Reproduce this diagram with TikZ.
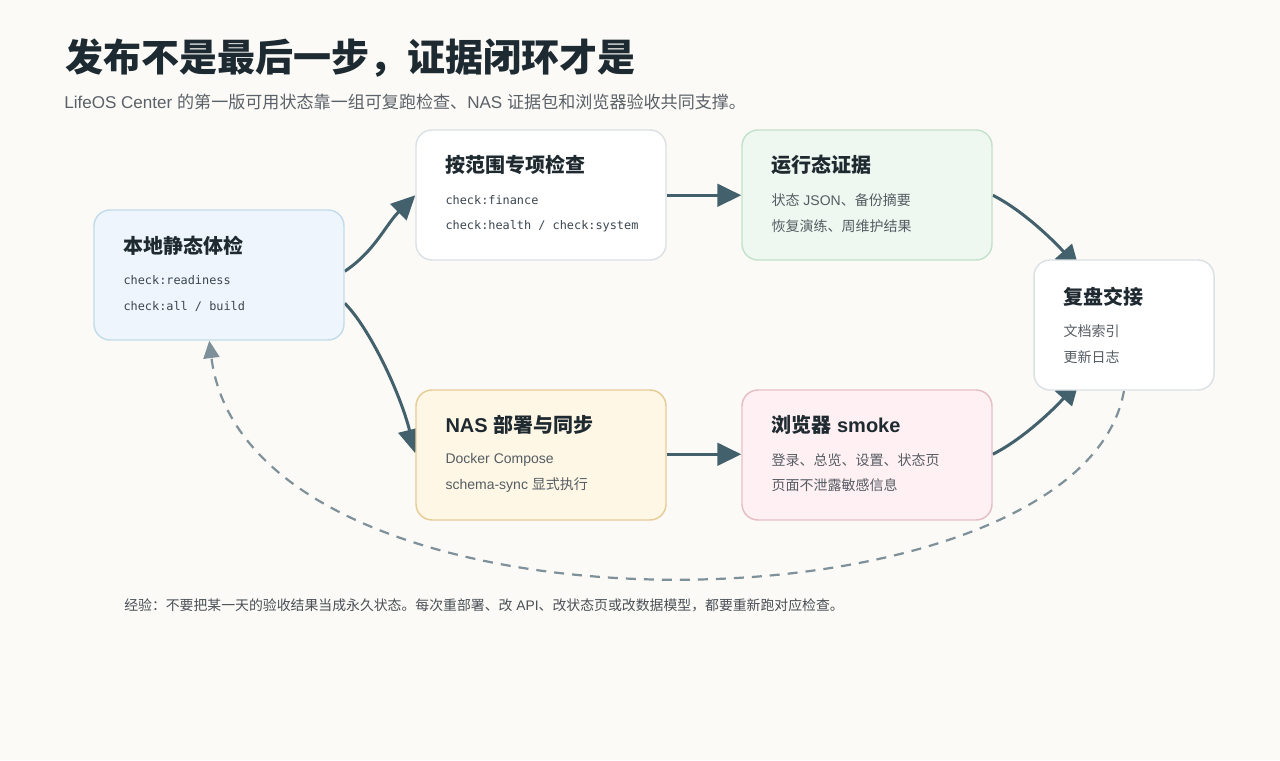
\documentclass[tikz,border=0pt]{standalone}
\usepackage{fontspec}
\setmainfont{Liberation Sans}
\setmonofont{DejaVu Sans Mono}
\newfontfamily\cjkf{Noto Sans CJK SC}
\newfontfamily\latf{Liberation Sans}
\usetikzlibrary{arrows.meta,calc}
\XeTeXinterchartokenstate=1
\newXeTeXintercharclass\CJKcls
\makeatletter
\def\setcjkrange#1#2{\count@=#1\relax\loop\XeTeXcharclass\count@=\CJKcls\relax\ifnum\count@<#2\advance\count@ by 1\repeat}
\makeatother
\setcjkrange{"3000}{"303F}
\setcjkrange{"4E00}{"9FFF}
\setcjkrange{"FF00}{"FFEF}
\XeTeXinterchartoks 0 \CJKcls = {\cjkf}
\XeTeXinterchartoks 4095 \CJKcls = {\cjkf}
\XeTeXinterchartoks \CJKcls 0 = {\latf}
\XeTeXinterchartoks \CJKcls 4095 = {\latf}
\definecolor{bgc}{HTML}{FBFAF6}
\definecolor{titlec}{HTML}{1D2A31}
\definecolor{subc}{HTML}{5B6168}
\definecolor{btitlec}{HTML}{1E2930}
\definecolor{codec}{HTML}{3B4650}
\definecolor{bodyc}{HTML}{555C62}
\definecolor{footc}{HTML}{4A5056}
\definecolor{arrc}{HTML}{43616C}
\definecolor{dashc}{HTML}{7E919B}
\definecolor{fa}{HTML}{EEF5FC}\definecolor{da}{HTML}{C3DCEB}
\definecolor{fb}{HTML}{FFFFFF}\definecolor{db}{HTML}{DCE1E5}
\definecolor{fc}{HTML}{EEF8F1}\definecolor{dc}{HTML}{C3E1CB}
\definecolor{fe}{HTML}{FEF7E6}\definecolor{de}{HTML}{E6CD97}
\definecolor{ff}{HTML}{FEF0F3}\definecolor{df}{HTML}{E6BFC6}
\pgfdeclarelayer{background}
\pgfdeclarelayer{conn}
\pgfsetlayers{background,conn,main}
\tikzset{
  card/.style={draw, line width=1.1pt, rounded corners=12pt, minimum width=187.5pt, minimum height=97.5pt, inner sep=0pt},
  btitle/.style={anchor=west, inner sep=0pt, text=btitlec, font=\fontsize{15}{18}\selectfont\bfseries},
  code/.style={anchor=west, inner sep=0pt, text=codec, font=\ttfamily\fontsize{8.9}{11}\selectfont},
  body/.style={anchor=west, inner sep=0pt, text=bodyc, font=\fontsize{10.5}{13}\selectfont},
  arr/.style={draw=arrc, line width=2.25pt, -{Triangle[length=18pt,width=17pt]}},
  back/.style={draw=dashc, line width=1.65pt, dash pattern=on 7.5pt off 6pt, -{Triangle[length=13pt,width=12pt]}}
}
\begin{document}
\begin{tikzpicture}[x=0.75pt,y=-0.75pt]
\begin{pgfonlayer}{background}
\fill[bgc] (0,0) rectangle (1280,760);
\end{pgfonlayer}
\useasboundingbox (0,0) rectangle (1280,760);
% titles
\node[anchor=west, inner sep=0pt, text=titlec, font=\fontsize{28.5}{32}\selectfont\bfseries] (title) at (65,58) {发布不是最后一步，证据闭环才是};
\node[anchor=west, inner sep=0pt, text=subc, font=\fontsize{12.8}{15}\selectfont] (sub) at (64,102) {LifeOS Center 的第一版可用状态靠一组可复跑检查、NAS 证据包和浏览器验收共同支撑。};
% cards
\node[card, fill=fa, draw=da] (n1) at (219,275) {};
\node[card, fill=fb, draw=db] (n2) at (541,195) {};
\node[card, fill=fc, draw=dc] (n3) at (867,195) {};
\node[card, fill=fb, draw=db, minimum width=135pt] (n4) at (1124,325) {};
\node[card, fill=fe, draw=de] (n5) at (541,455) {};
\node[card, fill=ff, draw=df] (n6) at (867,455) {};
% card texts
\node[btitle] (t1) at ($(n1.north west)+(30,36)$) {本地静态体检};
\node[code] (t1a) at ($(n1.north west)+(30,71)$) {check:readiness};
\node[code] (t1b) at ($(n1.north west)+(30,97)$) {check:all / build};
\node[btitle] (t2) at ($(n2.north west)+(30,36)$) {按范围专项检查};
\node[code] (t2a) at ($(n2.north west)+(30,71)$) {check:finance};
\node[code] (t2b) at ($(n2.north west)+(30,97)$) {check:health / check:system};
\node[btitle] (t3) at ($(n3.north west)+(30,36)$) {运行态证据};
\node[body] (t3a) at ($(n3.north west)+(30,71)$) {状态 JSON、备份摘要};
\node[body] (t3b) at ($(n3.north west)+(30,97)$) {恢复演练、周维护结果};
\node[btitle] (t4) at ($(n4.north west)+(30,38)$) {复盘交接};
\node[body] (t4a) at ($(n4.north west)+(30,72)$) {文档索引};
\node[body] (t4b) at ($(n4.north west)+(30,98)$) {更新日志};
\node[btitle] (t5) at ($(n5.north west)+(30,36)$) {NAS 部署与同步};
\node[body] (t5a) at ($(n5.north west)+(30,71)$) {Docker Compose};
\node[body] (t5b) at ($(n5.north west)+(30,96)$) {schema-sync 显式执行};
\node[btitle] (t6) at ($(n6.north west)+(30,36)$) {浏览器 smoke};
\node[body] (t6a) at ($(n6.north west)+(30,71)$) {登录、总览、设置、状态页};
\node[body] (t6b) at ($(n6.north west)+(30,96)$) {页面不泄露敏感信息};
% footnote
\node[anchor=west, inner sep=0pt, text=footc, font=\fontsize{10.4}{13}\selectfont] (foot) at (124,605) {经验：不要把某一天的验收结果当成永久状态。每次重部署、改 API、改状态页或改数据模型，都要重新跑对应检查。};
% connectors
\begin{pgfonlayer}{conn}
\coordinate (a1s) at ($(n1.north east)+(0,62)$);
\coordinate (a1e) at ($(n2.north west)+(0,66)$);
\draw[arr] (a1s) .. controls ($(a1s)+(30,-20)$) and ($(a1e)+(-30,30)$) .. (a1e);
\coordinate (a2s) at ($(n1.north east)+(0,94)$);
\coordinate (a2e) at ($(n5.north west)+(0,64)$);
\draw[arr] (a2s) .. controls ($(a2s)+(25,25)$) and ($(a2e)+(-15,-60)$) .. (a2e);
\draw[arr] ($(n2.north east)+(0,66)$) -- ($(n3.north west)+(0,66)$);
\draw[arr] ($(n5.north east)+(0,65)$) -- ($(n6.north west)+(0,65)$);
\coordinate (a5s) at ($(n3.north east)+(0,66)$);
\coordinate (a5e) at ($(n4.north west)+(46,10)$);
\draw[arr] (a5s) .. controls ($(a5s)+(30,15)$) and ($(a5e)+(-25,-28)$) .. (a5e);
\coordinate (a6s) at ($(n6.north east)+(0,65)$);
\coordinate (a6e) at ($(n4.south west)+(46,-10)$);
\draw[arr] (a6s) .. controls ($(a6s)+(30,-15)$) and ($(a6e)+(-25,28)$) .. (a6e);
\coordinate (bs) at (n4.south);
\coordinate (be) at ($(n1.south west)+(116,0)$);
\draw[back] (bs) .. controls ($(bs)+(-44,250)$) and ($(be)+(40,315)$) .. (be);
\end{pgfonlayer}
\end{tikzpicture}
\end{document}
